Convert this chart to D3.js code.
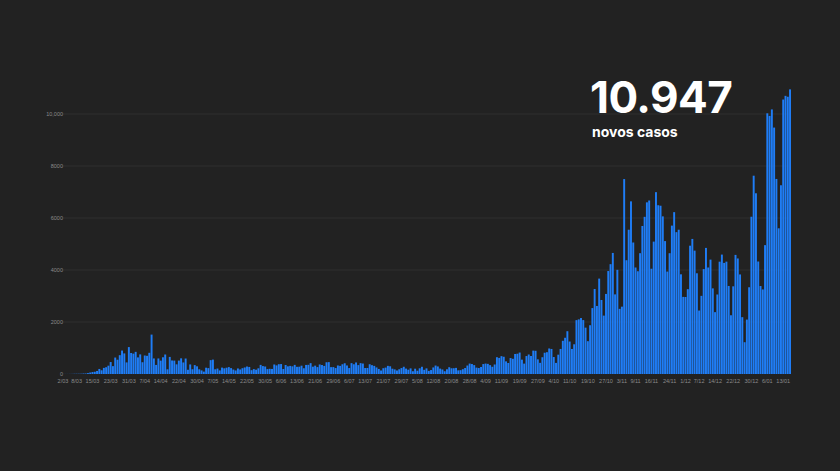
<!DOCTYPE html>
<html>
<head>
<meta charset="utf-8">
<script src="https://cdn.jsdelivr.net/npm/d3@7"></script>
<style>
body { margin: 0; background: #222222; }
</style>
</head>
<body>
<div id="chart"></div>
<script>
var width = 840;
var height = 471;

// daily new cases, one array per month, starting 2 March 2020
var mar = [2,2,2,3,4,8,9,9,11,18,19,34,57,76,86,117,194,143,235,260,320,460,302,633,549,724,902,792,446,1035];
var apr = [808,783,852,638,754,452,712,699,815,1516,598,349,598,514,643,750,181,657,521,516,371,516,603,444,595,163,368,183,342,295];
var may = [181,138,92,242,226,533,553,181,209,138,246,219,242,265,227,171,137,213,175,223,252,288,271,147,188,165,219,350,304,288,189];
var jun = [200,195,366,331,377,382,192,346,294,312,294,351,276,281,320,221,349,353,417,282,321,266,367,345,311,451,457,264,266,229];
var jul = [328,313,374,413,328,229,418,374,443,342,418,402,230,232,375,339,312,252,194,135,222,246,313,297,204,177,135,182,229,278,208];
var aug = [165,216,106,204,126,219,278,161,216,120,151,252,325,290,208,174,106,181,260,220,222,235,140,147,184,230,326,401,383,342,246];
var sep = [230,270,382,401,390,341,278,366,646,620,687,663,486,424,613,585,770,780,825,552,399,691,750,693,899,893,564,430,645,818];
var oct = [838,982,963,653,427,743,964,1278,1394,1646,1249,963,1143,2072,2101,2153,2074,1783,1262,1876,2535,3270,2617,3669,2847,2246,3079,3960,4224,4656,3062];
var nov = [4007,2506,2590,7497,4376,5550,6640,5058,4096,3952,4646,5694,6045,6602,6673,4049,5092,6994,6491,6472,6063,5112,3940,4646,5707,6225,5456,5550,3834,2966];
var dec = [2962,3262,4935,5195,4745,3874,2441,3006,4035,4850,4096,4399,3293,2379,3058,4320,4593,4273,4321,3386,2259,3372,4581,4444,3829,2186,1223,2093,3336,6049,7627];
var jan = [6951,4327,3384,3252,4956,10027,9927,10176,9478,7502,5604,7259,10556,10698,10663,10947];

var yTicks = [0, 2000, 4000, 6000, 8000, 10000];
var yTickLabels = ["0", "2000", "4000", "6000", "8000", "10,000"];
var xTickLabels = ["2/03","8/03","15/03","23/03","31/03","7/04","14/04","22/04","30/04","7/05","14/05","22/05","30/05","6/06","13/06","21/06","29/06","6/07","13/07","21/07","29/07","5/08","12/08","20/08","28/08","4/09","11/09","19/09","27/09","4/10","11/10","19/10","27/10","3/11","9/11","16/11","24/11","1/12","7/12","14/12","22/12","30/12","6/01","13/01"];

var bigNumber = "10.947";
var subtitle = "novos casos";

var cases = [].concat(mar, apr, may, jun, jul, aug, sep, oct, nov, dec, jan);
var start = new Date(2020, 2, 2);
var data = cases.map(function(v, i) {
	var d = new Date(start);
	d.setDate(start.getDate() + i);
	return { date: d, key: (d.getDate()) + "/" + String(d.getMonth() + 1).padStart(2, "0"), value: v };
});

var svg = d3.select("#chart")
	.append("svg")
	.attr("width", width)
	.attr("height", height)
	.style("background", "#222222");

var x = d3.scaleBand()
	.domain(data.map(function(d) { return d.key; }))
	.range([62, 791])
	.paddingInner(0.15);

var y = d3.scaleLinear()
	.domain([0, 10000])
	.range([374, 114]);

// gridlines
svg.append("g")
	.selectAll("line")
	.data(yTicks.slice(1))
	.enter()
	.append("line")
	.attr("x1", 62)
	.attr("x2", 791)
	.attr("y1", function(d) { return y(d); })
	.attr("y2", function(d) { return y(d); })
	.attr("stroke", "#2e2e2e")
	.attr("stroke-width", 1);

svg.append("g")
	.selectAll("rect")
	.data(data)
	.enter()
	.append("rect")
	.attr("x", function(d) { return x(d.key); })
	.attr("width", x.bandwidth())
	.attr("y", function(d) { return y(d.value); })
	.attr("height", function(d) { return y(0) - y(d.value); })
	.attr("fill", "#1f7df6");

// y labels
svg.append("g")
	.selectAll("text")
	.data(yTicks)
	.enter()
	.append("text")
	.attr("x", 63)
	.attr("y", function(d) { return y(d) + 2; })
	.attr("text-anchor", "end")
	.attr("font-family", "Liberation Sans")
	.attr("font-size", 5.5)
	.attr("fill", "#8a8a8a")
	.text(function(d, i) { return yTickLabels[i]; });

// x labels
svg.append("g")
	.selectAll("text")
	.data(xTickLabels)
	.enter()
	.append("text")
	.attr("x", function(d) { return x(d) + x.bandwidth() / 2; })
	.attr("y", 383)
	.attr("text-anchor", "middle")
	.attr("font-family", "Liberation Sans")
	.attr("font-size", 5.5)
	.attr("fill", "#8a8a8a")
	.text(function(d) { return d; });

svg.append("text")
	.attr("x", 590)
	.attr("y", 113)
	.attr("font-family", "Inter")
	.attr("font-weight", 700)
	.attr("font-size", 44)
	.attr("letter-spacing", -0.5)
	.attr("fill", "#ffffff")
	.text(bigNumber);

svg.append("text")
	.attr("x", 592)
	.attr("y", 137)
	.attr("font-family", "Inter")
	.attr("font-weight", 700)
	.attr("font-size", 14)
	.attr("fill", "#ffffff")
	.text(subtitle);
</script>
</body>
</html>
